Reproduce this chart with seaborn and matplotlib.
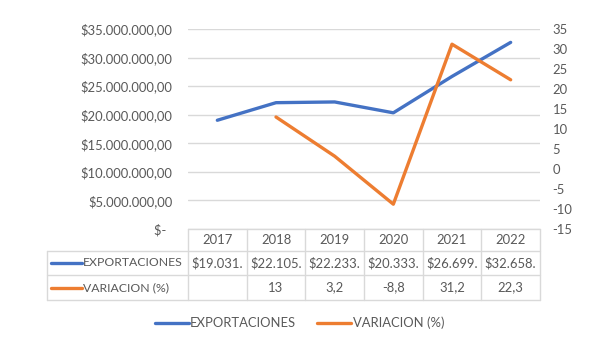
import numpy as np
import pandas as pd
import seaborn as sns
import matplotlib.pyplot as plt
from matplotlib.lines import Line2D
from matplotlib.ticker import FuncFormatter, MultipleLocator

# data
years = ["2017", "2018", "2019", "2020", "2021", "2022"]
exportaciones = [19031000, 22105000, 22233000, 20333000, 26699000, 32658000]
variacion = [np.nan, 13, 3.2, -8.8, 31.2, 22.3]
variacion_txt = ["", "13", "3,2", "-8,8", "31,2", "22,3"]
series_names = ["EXPORTACIONES", "VARIACION (%)"]

BLUE = "#4472C4"
ORANGE = "#ED7D31"
GRID = "#d9d9d9"
TXT = "#595959"
FS = 9.4

sns.set_style("white")
plt.rcParams["font.family"] = ["Lato", "DejaVu Sans"]
plt.rcParams["font.size"] = FS

df = pd.DataFrame({"x": np.arange(len(years)), "exp": exportaciones, "var": variacion})

fig = plt.figure(figsize=(5.99, 3.47), dpi=100)
ax = fig.add_axes([188 / 599, 1 - 229 / 347, 352 / 599, 200 / 347])
ax2 = ax.twinx()

sns.lineplot(data=df, x="x", y="exp", ax=ax, color=BLUE, lw=2.4)
sns.lineplot(data=df.dropna(), x="x", y="var", ax=ax2, color=ORANGE, lw=2.4)

ax.set_xlim(-0.5, len(years) - 0.5)
ax.set_ylim(0, 35e6)
ax.yaxis.set_major_locator(MultipleLocator(5e6))
ax2.set_ylim(-15, 35)
ax2.yaxis.set_major_locator(MultipleLocator(5))


def money(v, pos=None):
    if v == 0:
        return "$-  "
    s = f"{v:,.2f}".replace(",", "X").replace(".", ",").replace("X", ".")
    return "$" + s


ax.yaxis.set_major_formatter(FuncFormatter(money))
ax2.yaxis.set_major_formatter(FuncFormatter(lambda v, p: f"{v:g}"))

ax.grid(axis="y", color=GRID, lw=1)
ax.set_xticks([])
for a in (ax, ax2):
    for s in a.spines.values():
        s.set_visible(False)
    a.set_xlabel("")
    a.set_ylabel("")
ax.tick_params(axis="y", length=0, pad=11, labelcolor=TXT, labelsize=FS)
ax2.tick_params(axis="y", length=0, pad=9, labelcolor=TXT, labelsize=FS)

# data table under the plot
tr = ax.get_xaxis_transform()
rows_y = [0, -0.11, -0.23, -0.355]
x_left = -0.5 - (188 - 47) / 352 * len(years)
x_right = len(years) - 0.5
tkw = dict(transform=tr, clip_on=False, color=GRID, lw=1)

# horizontal lines
ax.plot([-0.5, x_right], [0, 0], **tkw)
for yy in rows_y[1:]:
    ax.plot([x_left, x_right], [yy, yy], **tkw)
# vertical lines
for i in range(len(years) + 1):
    ax.plot([i - 0.5, i - 0.5], [rows_y[0], rows_y[-1]], **tkw)
ax.plot([x_left, x_left], [rows_y[1], rows_y[-1]], **tkw)


def cut(v):
    s = money(v)
    return s[:8]


for i, yr in enumerate(years):
    ax.text(i, (rows_y[0] + rows_y[1]) / 2, yr, transform=tr, ha="center", va="center", color=TXT)
    ax.text(i, (rows_y[1] + rows_y[2]) / 2, cut(exportaciones[i]), transform=tr, ha="center", va="center", color=TXT)
    ax.text(i, (rows_y[2] + rows_y[3]) / 2, variacion_txt[i], transform=tr, ha="center", va="center", color=TXT)

px = len(years) / 352
for k, (name, col) in enumerate(zip(series_names, [BLUE, ORANGE])):
    yy = (rows_y[k + 1] + rows_y[k + 2]) / 2
    ax.plot([x_left + 4 * px, x_left + 35 * px], [yy, yy], transform=tr, clip_on=False, color=col, lw=2.4)
    ax.text(x_left + 36 * px, yy, name, transform=tr, ha="left", va="center", color=TXT, fontsize=8.8)

handles = [Line2D([], [], color=BLUE, lw=2.4), Line2D([], [], color=ORANGE, lw=2.4)]
fig.legend(handles, series_names, loc="center", bbox_to_anchor=(0.5, 1 - 323 / 347), ncol=2,
           frameon=False, handlelength=2.6, handletextpad=0.1, columnspacing=1.6,
           labelcolor=TXT, fontsize=FS)

fig.savefig("out.png", dpi=100)
